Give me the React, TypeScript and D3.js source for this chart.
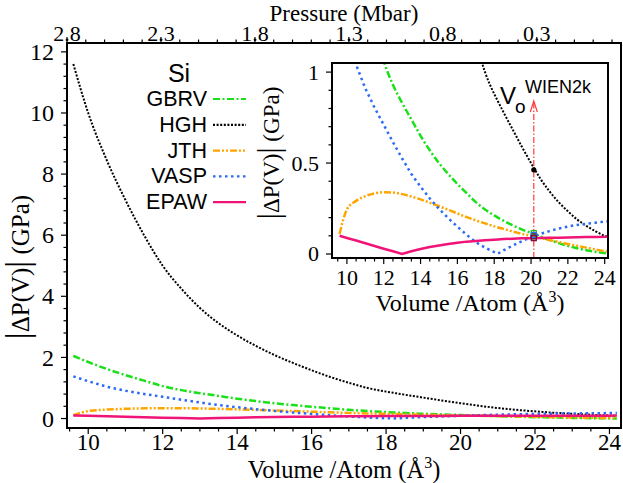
import React from 'react'
import * as d3 from 'd3'

// volume grid (Å^3 per atom) shared by every series
const volumes = [9.6, 10.0, 10.5, 11.0, 11.5, 12.0, 12.5, 13.0, 13.5, 14.0, 14.5, 15.0, 15.5, 16.0, 16.5, 17.0,
  17.5, 18.0, 18.2, 18.5, 19.0, 19.5, 20.0, 20.5, 21.0, 21.5, 22.0, 22.5, 23.0, 23.5, 24.0, 24.2]

// |dP(V)| in GPa
const gbrv = [2.05, 1.85, 1.62, 1.42, 1.24, 1.06, 0.93, 0.83, 0.74, 0.65, 0.57, 0.5, 0.44, 0.385, 0.335, 0.285,
  0.245, 0.212, 0.2, 0.183, 0.158, 0.135, 0.116, 0.096, 0.077, 0.06, 0.045, 0.032, 0.021, 0.012, 0.005, 0.003]
const hgh = [11.6, 10.0, 8.45, 7.15, 6.0, 5.0, 4.25, 3.62, 3.12, 2.72, 2.38, 2.08, 1.82, 1.58, 1.36, 1.17,
  1.0, 0.88, 0.84, 0.78, 0.685, 0.59, 0.5, 0.415, 0.345, 0.285, 0.235, 0.19, 0.155, 0.125, 0.1, 0.092]
const jth = [0.11, 0.245, 0.292, 0.318, 0.333, 0.34, 0.338, 0.329, 0.316, 0.3, 0.282, 0.263, 0.243, 0.223, 0.203, 0.185,
  0.168, 0.152, 0.146, 0.138, 0.124, 0.111, 0.099, 0.088, 0.077, 0.066, 0.055, 0.045, 0.035, 0.025, 0.016, 0.013]
const vasp = [1.38, 1.22, 1.04, 0.91, 0.805, 0.71, 0.615, 0.525, 0.44, 0.37, 0.305, 0.248, 0.197, 0.15, 0.106, 0.065,
  0.035, 0.01, 0.002, 0.02, 0.046, 0.07, 0.092, 0.11, 0.126, 0.14, 0.151, 0.16, 0.166, 0.172, 0.178, 0.18]
const epaw = [0.1, 0.088, 0.074, 0.059, 0.044, 0.029, 0.015, 0.0, 0.015, 0.027, 0.038, 0.047, 0.055, 0.062, 0.068, 0.072,
  0.076, 0.079, 0.08, 0.082, 0.084, 0.086, 0.087, 0.088, 0.089, 0.09, 0.091, 0.092, 0.093, 0.094, 0.095, 0.096]

const seriesNames = ['GBRV', 'HGH', 'JTH', 'VASP', 'EPAW']
const seriesValues = [gbrv, hgh, jth, vasp, epaw]

// WIEN2k equilibrium volume and the values marked on it in the inset
const v0 = 20.15
const v0Values = [0.115, 0.463, 0.097, 0.105, 0.087]

const mainXTicks = [10, 12, 14, 16, 18, 20, 22, 24]
const mainYTicks = [0, 2, 4, 6, 8, 10, 12]
const pressureTicks = [2.8, 2.3, 1.8, 1.3, 0.8, 0.3]
const insetXTicks = [10, 12, 14, 16, 18, 20, 22, 24]
const insetYTicks = [0, 0.5, 1]

const styles = [
  { color: '#19e019', dash: '7,2.5,2,2.5', width: 2.5, smooth: true },
  { color: '#000000', dash: '2,1.6', width: 2, smooth: true },
  { color: '#ffa500', dash: '7,2,2,2,2,2', width: 2.5, smooth: true },
  { color: '#2a6af5', dash: '2.5,3.5', width: 2.5, smooth: false },
  { color: '#f01478', dash: null, width: 2.5, smooth: false },
]
const markerColors = ['#19c019', '#000', '#333', '#2a6af5', '#7a0040']

const serif = '"Liberation Serif", "DejaVu Serif", serif'
const sans = '"Liberation Sans", Arial, sans-serif'

const M = { left: 67, right: 621, top: 43, bottom: 428 }
const I = { left: 332, right: 608, top: 63, bottom: 258 }

function range(a, b, step) {
  const out = []
  for (let v = a; v <= b + 1e-9; v += step) out.push(+v.toFixed(4))
  return out
}
const isMult = (v, step, off = 0) => Math.abs((v - off) / step - Math.round((v - off) / step)) < 1e-6

export default function App() {
  const x = d3.scaleLinear().domain([9.43, 24.31]).range([M.left, M.right])
  const y = d3.scaleLinear().domain([-0.31, 12.29]).range([M.bottom, M.top])
  const xTop = d3.scaleLinear().domain([2.8, -0.148]).range([M.left, M.right])
  const xi = d3.scaleLinear().domain([9.19, 24.18]).range([I.left, I.right])
  const yi = d3.scaleLinear().domain([-0.022, 1.05]).range([I.bottom, I.top])

  const pathFor = (sx, sy, vals, smooth) =>
    d3.line()
      .x((d, i) => sx(volumes[i]))
      .y(d => sy(d))
      .curve(smooth ? d3.curveMonotoneX : d3.curveLinear)(vals)

  const curves = (sx, sy) => seriesValues.map((vals, k) => (
    <path key={k} d={pathFor(sx, sy, vals, styles[k].smooth)} fill="none"
      stroke={styles[k].color} strokeWidth={styles[k].width}
      strokeDasharray={styles[k].dash || undefined} />
  ))

  const ax = xi(v0)

  return (
    <svg width={623} height={483} style={{ display: 'block', position: 'absolute', left: 0, top: 0 }}>
      <rect width={623} height={483} fill="#fff" />
      <defs>
        <clipPath id="mainClip"><rect x={M.left} y={M.top} width={M.right - M.left} height={M.bottom - M.top} /></clipPath>
        <clipPath id="insetClip"><rect x={I.left} y={I.top} width={I.right - I.left} height={I.bottom - I.top} /></clipPath>
      </defs>

      {/* main curves */}
      <g clipPath="url(#mainClip)">{curves(x, y)}</g>

      {/* main ticks, pointing out */}
      <g stroke="#000" strokeWidth={1.2}>
        {range(0, 12, 0.4).map(v => (
          <line key={'ly' + v} x1={M.left} x2={M.left - (isMult(v, 2) ? 6 : 3.5)} y1={y(v)} y2={y(v)} />
        ))}
        {range(9.5, 24, 0.5).map(v => (
          <line key={'lx' + v} y1={M.bottom} y2={M.bottom + (isMult(v, 2) ? 6 : 3.5)} x1={x(v)} x2={x(v)} />
        ))}
        {range(-0.1, 2.8, 0.1).map(v => (
          <line key={'tx' + v} y1={M.top} y2={M.top - (isMult(v, 0.5, 0.3) ? 6 : 3.5)} x1={xTop(v)} x2={xTop(v)} />
        ))}
      </g>
      <rect x={M.left} y={M.top} width={M.right - M.left} height={M.bottom - M.top} fill="none" stroke="#000" strokeWidth={2} />

      <g fontFamily={serif} fontSize={23} fill="#000">
        {mainYTicks.map(v => (
          <text key={v} x={54} y={y(v)} dy="0.34em" textAnchor="end" fontSize={24}>{v}</text>
        ))}
        {mainXTicks.map(v => (
          <text key={v} x={x(v)} y={450} textAnchor="middle">{v}</text>
        ))}
        {pressureTicks.map(v => (
          <text key={v} x={xTop(v)} y={40.5} textAnchor="middle" fontSize={22}>{v.toFixed(1)}</text>
        ))}
        <text x={(M.left + M.right) / 2} y={20.5} textAnchor="middle" fontSize={23}>Pressure (Mbar)</text>
        <text x={(M.left + M.right) / 2} y={478} textAnchor="middle" fontSize={24.5}>
          Volume /Atom (Å<tspan dy="-10" fontSize={16}>3</tspan><tspan dy="10">)</tspan>
        </text>
        <text transform="translate(29,267) rotate(-90)" textAnchor="middle" fontSize={25}>
          <tspan fontSize={34}>|</tspan>ΔP(V)<tspan fontSize={34}>|</tspan>  (GPa)
        </text>
      </g>

      {/* legend */}
      <g fontFamily={sans} fill="#000">
        <text x={179} y={82} textAnchor="middle" fontSize={25}>Si</text>
        {seriesNames.map((name, k) => {
          const by = 106 + k * 25.8
          return (
            <g key={name}>
              <text x={207} y={by} textAnchor="end" fontSize={21.5}>{name}</text>
              <line x1={213} x2={246} y1={by - 7} y2={by - 7} stroke={styles[k].color}
                strokeWidth={2.2} strokeDasharray={styles[k].dash || undefined} />
            </g>
          )
        })}
      </g>

      {/* inset */}
      <rect x={I.left} y={I.top} width={I.right - I.left} height={I.bottom - I.top} fill="#fff" />
      <g clipPath="url(#insetClip)">{curves(xi, yi)}</g>

      {/* V0 arrow */}
      <line x1={ax} x2={ax} y1={I.bottom} y2={102} stroke="#ff3a3a" strokeWidth={1.2} strokeDasharray="6,2,1.5,2" />
      <path d={`M${ax - 3.5},${112} L${ax},${101} L${ax + 3.5},${112}`} fill="none" stroke="#ff3a3a" strokeWidth={1.2} />
      {v0Values.map((v, k) => k === 1
        ? <circle key={k} cx={ax} cy={yi(v)} r={2.6} fill="#000" />
        : <rect key={k} x={ax - 2.5} y={yi(v) - 2.5} width={5} height={5} fill="none"
            stroke={markerColors[k]} strokeWidth={1.2} />
      )}
      <g fontFamily={sans} fill="#000">
        <text x={500} y={104} fontSize={24}>V</text>
        <text x={515} y={113} fontSize={19}>o</text>
        <text x={525} y={93} fontSize={18}>WIEN2k</text>
      </g>

      <g stroke="#000" strokeWidth={1.2}>
        {range(0, 1, 0.1).map(v => (
          <line key={'iy' + v} x1={I.left} x2={I.left - (isMult(v, 0.5) ? 6 : 3.5)} y1={yi(v)} y2={yi(v)} />
        ))}
        {range(9.5, 24, 0.5).map(v => (
          <line key={'ix' + v} y1={I.bottom} y2={I.bottom + (isMult(v, 2) ? 6 : 3.5)} x1={xi(v)} x2={xi(v)} />
        ))}
      </g>
      <rect x={I.left} y={I.top} width={I.right - I.left} height={I.bottom - I.top} fill="none" stroke="#000" strokeWidth={2} />

      <g fontFamily={serif} fontSize={22} fill="#000">
        {insetYTicks.map(v => (
          <text key={v} x={319} y={yi(v)} dy="0.34em" textAnchor="end">{v}</text>
        ))}
        {insetXTicks.map(v => (
          <text key={v} x={xi(v)} y={285} textAnchor="middle">{v}</text>
        ))}
        <text x={(I.left + I.right) / 2} y={311} textAnchor="middle" fontSize={24}>
          Volume /Atom (Å<tspan dy="-9" fontSize={16}>3</tspan><tspan dy="9">)</tspan>
        </text>
        <text transform="translate(279,153) rotate(-90)" textAnchor="middle" fontSize={23}>
          <tspan fontSize={31}>|</tspan>ΔP(V)<tspan fontSize={31}>|</tspan>  (GPa)
        </text>
      </g>
    </svg>
  )
}
